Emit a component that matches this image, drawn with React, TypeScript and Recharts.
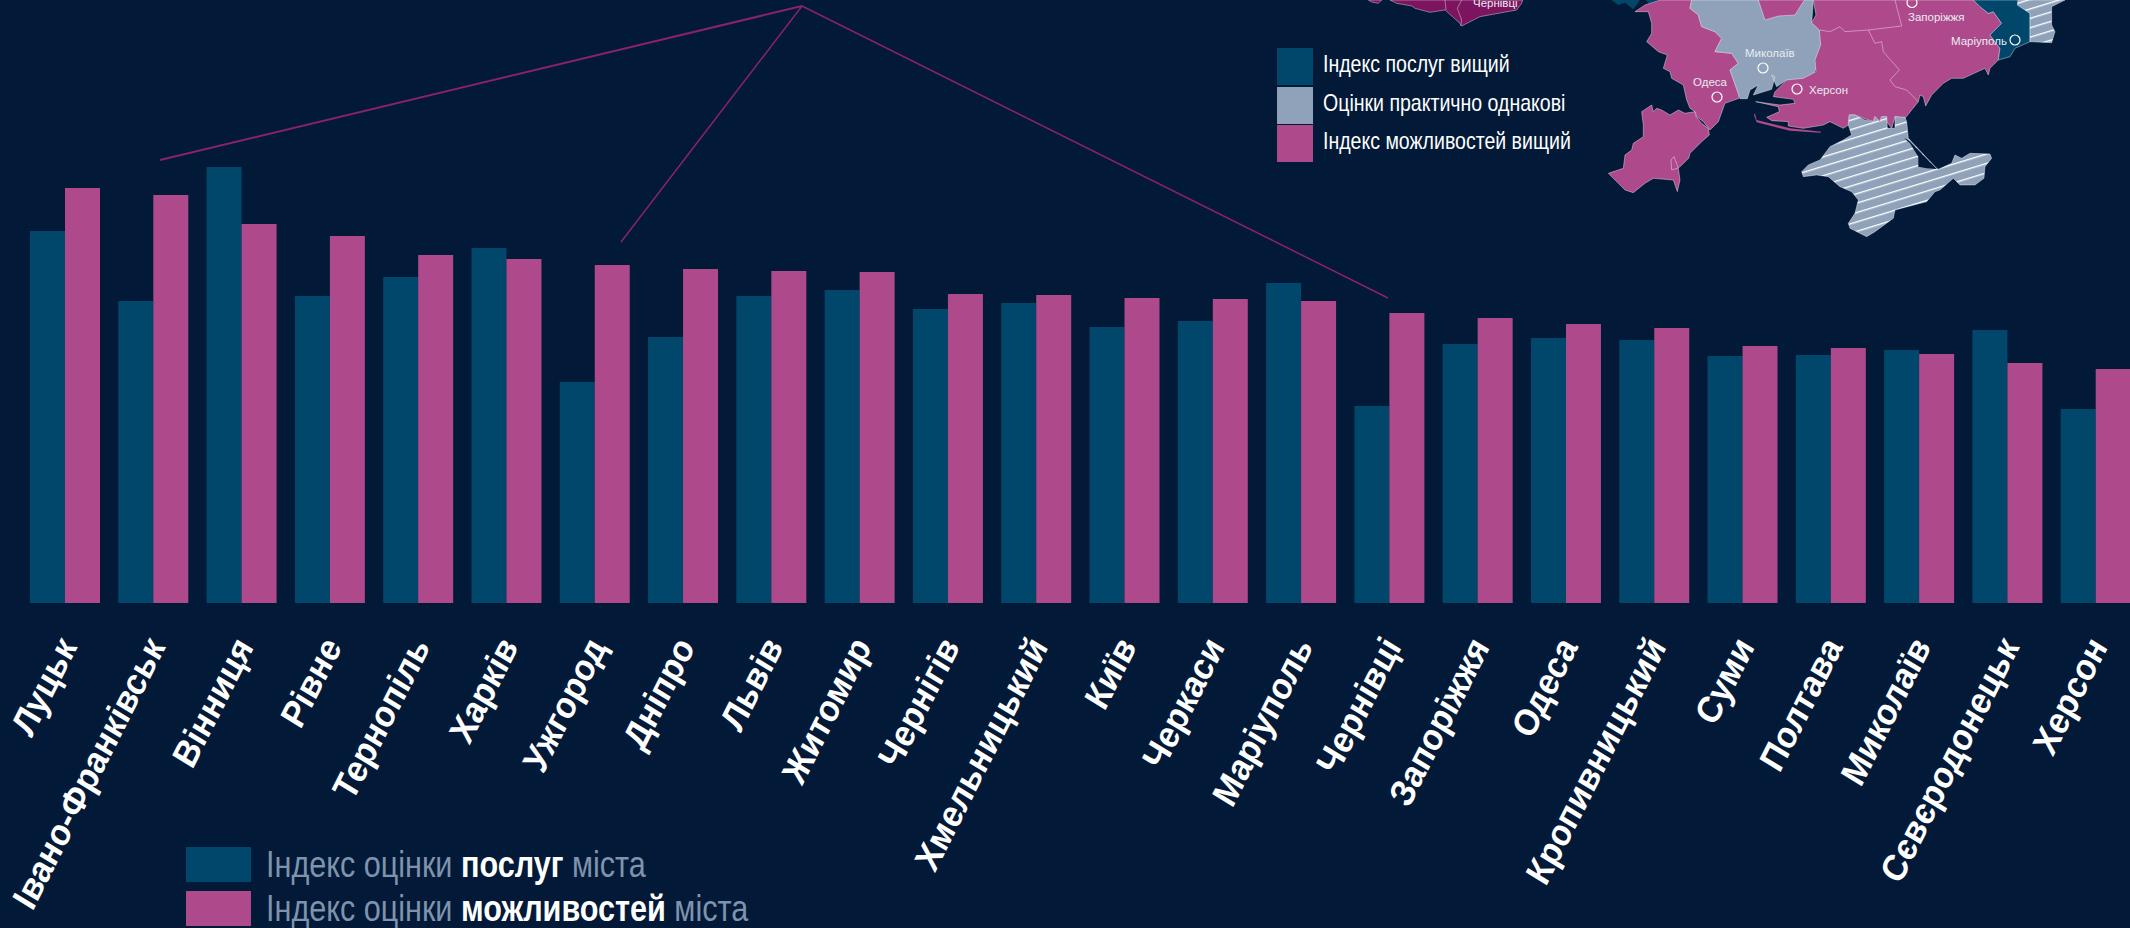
import React from "react";
import { BarChart, Bar, XAxis, YAxis } from "recharts";

const cities = [
  "Луцьк", "Івано-Франківськ", "Вінниця", "Рівне", "Тернопіль", "Харків",
  "Ужгород", "Дніпро", "Львів", "Житомир", "Чернігів", "Хмельницький",
  "Київ", "Черкаси", "Маріуполь", "Чернівці", "Запоріжжя", "Одеса",
  "Кропивницький", "Суми", "Полтава", "Миколаїв", "Сєвєродонецьк", "Херсон",
];
const services = [
  3.72, 3.02, 4.36, 3.07, 3.26, 3.55, 2.21, 2.66, 3.07, 3.13, 2.94, 3.0,
  2.76, 2.82, 3.2, 1.97, 2.59, 2.65, 2.63, 2.47, 2.48, 2.53, 2.73, 1.94,
];
const opportunities = [
  4.15, 4.08, 3.79, 3.67, 3.48, 3.44, 3.38, 3.34, 3.32, 3.31, 3.09, 3.08,
  3.05, 3.04, 3.02, 2.9, 2.85, 2.79, 2.75, 2.57, 2.55, 2.49, 2.4, 2.34,
];

const chartData = cities.map((city, i) => ({
  city,
  services: services[i],
  opportunities: opportunities[i],
}));

const BG = "#021a37";
const BLUE = "#00476b";
const PINK = "#ae4a8c";
const GREY = "#8fa2ba";
const DARK_PINK = "#7d145f";
const LEADER = "#8a2070";
const FONT = "'Liberation Sans', Arial, sans-serif";

// map outlines (3x crop coordinates)
const odesaNorth = "135,35 165,15 210,0 305,0 300,25 325,45 335,80 375,95 395,115 375,155 425,160 445,190 420,210 445,280 447,295 405,310 385,365 360,390 340,365 320,350 315,335 300,325 290,300 280,255 245,235 240,215 220,205 232,165 205,155 170,125 185,100 185,70 175,35";
const budjak = "155,335 185,315 190,335 200,325 215,330 240,345 265,330 285,340 315,335 318,350 335,370 355,385 358,405 335,425 300,460 296,475 270,500 262,505 245,510 243,480 252,470 265,505 270,540 262,575 250,540 190,535 165,550 130,578 105,570 85,550 55,520 100,505 105,465 125,450 130,430 160,410 160,375";
const mykolaiv = "305,0 300,25 325,45 335,80 375,95 395,115 375,155 425,160 445,190 420,210 445,280 450,296 472,296 480,270 505,255 490,285 545,268 555,230 545,225 560,260 590,240 665,235 690,180 695,145 690,90 665,70 670,0";
const kirovNotch = "505,0 525,60 565,48 615,45 640,5 645,0";
const kinburn = "495,340 500,360 600,385 695,395 690,398 600,392 500,367 492,345";
const blueNorth1 = "65,0 85,15 105,8 130,28 150,0";
const blueNorth2 = "168,0 175,10 205,0";

const eastPink = "100,0 108,45 95,68 118,90 122,135 105,180 108,215 70,235 20,240 -15,275 -20,290 40,298 45,310 0,315 -73,305 -5,320 -2,335 -40,352 -25,362 25,365 25,378 70,385 130,375 150,365 190,385 205,375 208,345 225,345 280,365 285,350 300,365 305,350 320,350 320,365 335,385 345,350 375,355 415,305 420,285 430,290 437,318 455,285 490,250 515,235 550,235 615,205 625,225 630,205 655,180 660,145 630,105 665,70 640,35 625,40 600,20 580,0";
const crimea = "208,345 225,345 255,360 280,365 285,350 300,365 305,350 320,350 322,385 345,385 345,350 375,352 380,365 385,415 470,505 475,508 515,490 525,465 545,475 570,460 630,462 635,475 615,500 612,535 585,555 540,555 520,535 480,570 465,575 440,605 345,630 340,655 285,695 260,710 210,685 205,670 225,640 235,600 215,575 180,560 145,530 110,525 70,530 65,515 85,495 120,480 150,440 190,420 215,405 205,375";
const sivash = "415,500 415,470 390,430 372,415 385,420 470,507 440,505";
const donetskBlue = "580,0 600,20 625,40 640,35 665,70 630,105 660,145 655,180 690,170 705,145 750,125 750,40 715,15 712,0";
const donetskHatch = "715,0 712,15 750,40 750,125 815,128 825,95 815,75 815,20 855,0";

const chernivtsiMain = "150,0 170,10 215,18 225,25 270,37 315,30 360,70 365,78 420,50 530,30 545,10 548,0";
const chernivtsiSmall = "85,0 95,6 115,10 125,0";

const mapLabels = [
  { text: "Запоріжжя", x: 1908, y: 21 },
  { text: "Маріуполь", x: 1951, y: 45 },
  { text: "Миколаїв", x: 1745, y: 57 },
  { text: "Одеса", x: 1693, y: 86 },
  { text: "Херсон", x: 1809, y: 94 },
  { text: "Чернівці", x: 1473, y: 7 },
];
const mapDots = [
  [1912, 2.5],
  [2015, 40],
  [1763, 68],
  [1717, 97],
  [1797, 89],
];

// the reference labels are rotated, narrowed and slightly sheared
const CityTick = ({ x, y, payload }: any) => (
  <text
    x={0}
    y={0}
    transform={`translate(${x + 12.5},${y + 36}) scale(1,1.1) rotate(-61) scale(0.91,1)`}
    textAnchor="end"
    fill="#ffffff"
    fontFamily={FONT}
    fontWeight={700}
    fontSize={35}
  >
    {payload.value}
  </text>
);

const MapPart = () => {
  const edge = { stroke: "#ffffff", strokeOpacity: 0.6, strokeWidth: 2 };
  return (
    <svg
      width={2130}
      height={928}
      style={{ position: "absolute", left: 0, top: 0 }}
    >
      <defs>
        <pattern
          id="hatch"
          patternUnits="userSpaceOnUse"
          width={27}
          height={27}
          patternTransform="rotate(-17)"
        >
          <rect width={27} height={27} fill={GREY} />
          <rect width={27} height={4} fill="#ffffff" />
        </pattern>
      </defs>

      <line x1={802} y1={6} x2={160} y2={160} stroke={LEADER} strokeWidth={2} />
      <line x1={802} y1={6} x2={621} y2={242} stroke={LEADER} strokeWidth={1.5} />
      <line x1={802} y1={6} x2={1388} y2={298} stroke={LEADER} strokeWidth={1.5} />

      <g transform="translate(1340,0) scale(0.3333)">
        <polygon points={chernivtsiSmall} fill={DARK_PINK} {...edge} />
        <polygon points={chernivtsiMain} fill={DARK_PINK} {...edge} />
        <polyline points="315,0 318,30" fill="none" {...edge} />
        <polyline points="365,0 352,25 365,60 362,78" fill="none" {...edge} />
      </g>

      <g transform="translate(1590,0) scale(0.3333)">
        <polygon points={blueNorth1} fill={BLUE} />
        <polygon points={blueNorth2} fill={BLUE} />
        <polygon points={odesaNorth} fill={PINK} {...edge} />
        <polygon points={budjak} fill={PINK} {...edge} />
        <polygon points={mykolaiv} fill={GREY} {...edge} />
        <polygon points={kirovNotch} fill={PINK} {...edge} />
        <polygon points={kinburn} fill={PINK} />
      </g>

      <g transform="translate(1780,0) scale(0.3333)">
        <polygon points={eastPink} fill={PINK} {...edge} />
        <polyline points="345,0 365,78 265,90 195,95 180,80 150,95 120,90" fill="none" {...edge} />
        <polyline points="265,90 285,130 305,125 310,155 358,210 330,240 345,260 380,270 415,305" fill="none" {...edge} />
        <polygon points={donetskBlue} fill={BLUE} {...edge} />
        <polygon points={donetskHatch} fill="url(#hatch)" {...edge} />
        <polygon points={crimea} fill="url(#hatch)" {...edge} />
        <polygon points={sivash} fill={BG} />
      </g>

      {mapDots.map(([cx, cy]) => (
        <circle key={cx} cx={cx} cy={cy} r={5} fill="none" stroke="#ffffff" strokeWidth={1.2} />
      ))}
      {mapLabels.map((l) => (
        <text key={l.text} x={l.x} y={l.y} fill="#e8ecf2" fontFamily={FONT} fontSize={11.5}>
          {l.text}
        </text>
      ))}

      <rect x={1277} y={48} width={36} height={37} fill={BLUE} />
      <rect x={1277} y={87} width={36} height={37} fill={GREY} />
      <rect x={1277} y={125} width={36} height={37} fill={PINK} />
      <g fill="#ffffff" fontFamily={FONT} fontSize={23}>
        <text transform="translate(1323,72) scale(0.85,1)">Індекс послуг вищий</text>
        <text transform="translate(1323,111) scale(0.85,1)">Оцінки практично однакові</text>
        <text transform="translate(1323,149) scale(0.85,1)">Індекс можливостей вищий</text>
      </g>

      <rect x={186} y={847} width={65} height={35} fill={BLUE} />
      <rect x={186} y={891} width={65} height={35} fill={PINK} />
      <g fill="#7f93ad" fontFamily={FONT} fontSize={37}>
        <text transform="translate(266,877) scale(0.827,1)">
          Індекс оцінки <tspan fontWeight={700} fill="#ffffff">послуг</tspan> міста
        </text>
        <text transform="translate(266,921) scale(0.827,1)">
          Індекс оцінки <tspan fontWeight={700} fill="#ffffff">можливостей</tspan> міста
        </text>
      </g>
    </svg>
  );
};

export default function App() {
  return (
    <div
      style={{
        position: "absolute",
        left: 0,
        top: 0,
        width: 2130,
        height: 928,
        overflow: "hidden",
        background: BG,
      }}
    >
      <MapPart />
      <div style={{ position: "absolute", left: 0, top: 0 }}>
        <BarChart
          width={2150}
          height={928}
          data={chartData}
          margin={{ top: 3, right: 10, bottom: 0, left: 21 }}
          barCategoryGap={9}
          barGap={0}
        >
          <XAxis
            dataKey="city"
            height={325}
            interval={0}
            axisLine={false}
            tickLine={false}
            tick={<CityTick />}
          />
          <YAxis hide domain={[0, 6]} />
          <Bar dataKey="services" fill={BLUE} isAnimationActive={false} />
          <Bar dataKey="opportunities" fill={PINK} isAnimationActive={false} />
        </BarChart>
      </div>
    </div>
  );
}
